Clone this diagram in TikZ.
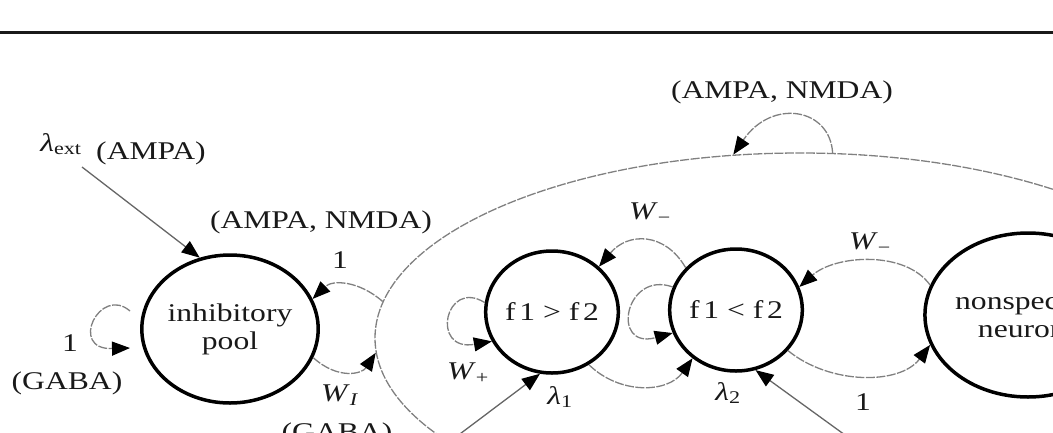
\documentclass[tikz,border=0pt]{standalone}
\usepackage{fontspec}
\setmainfont{Liberation Serif}
\usepackage{graphicx}
\usetikzlibrary{shapes.geometric,arrows.meta}
\newcommand{\sx}[1]{\scalebox{1.24}[1]{#1}}
\newcommand{\lblfont}{\fontsize{25.5}{28}\selectfont}
\begin{document}
\begin{tikzpicture}[x=1pt,y=-1pt,
  lbl/.style={font=\lblfont, inner sep=0pt, text=black!90},
  neuron/.style={ellipse, draw=black, line width=3.5pt, inner sep=0pt, font=\lblfont, text=black!90, align=center},
  conn/.style={draw=black!50, line width=1.3pt, dash pattern=on 9pt off 1.5pt},
  inp/.style={draw=black!60, line width=1.3pt},
  tip/.style={-{Triangle[length=18pt,width=14pt,color=black]}},
]
\useasboundingbox (0,0) rectangle (1053,432);
\clip (0,0) rectangle (1053,432);
% top rule
\draw[line width=3pt, black!90] (0,32.5) -- (1053,32.5);

% nodes
\node[ellipse, conn, minimum width=850pt, minimum height=370pt, inner sep=0pt] (pop) at (800,338) {};
\node[neuron, minimum width=164pt, minimum height=148pt] (inh) at (230,329) {\sx{inhibitory}\\\sx{pool}};
\node[neuron, minimum width=116pt, minimum height=122pt] (c1) at (552,312) {\sx{f\kern3pt 1 > f\kern3pt 2}};
\node[neuron, minimum width=118pt, minimum height=122pt] (c2) at (736,310) {\sx{f\kern3pt 1 < f\kern3pt 2}};
\node[neuron, minimum width=176pt, minimum height=164pt] (ns) at (1028,315) {\sx{nonspecific}\\\sx{neurons}};

% free ends
\coordinate (ext) at (82,167);
\coordinate (ls) at (130,311);
\coordinate (le) at (130,348);
\coordinate (in1) at (420,464);
\coordinate (in2) at (885,464);

% connectors
\draw[inp,tip] (ext) -- (inh.113);
\draw[conn,tip] (ls) .. controls (100,285) and (68,350) .. (le);
\draw[conn,tip] (pop.175) .. controls (358,280) and (332,280) .. (inh.20);
\draw[conn,tip] (inh.-19) .. controls (338,380) and (362,374) .. (pop.182);
\draw[conn,tip] (pop.80) .. controls (830,108) and (772,98) .. (pop.110);
\draw[conn,tip] (c1.172) .. controls (445,278) and (430,352) .. (c1.206);
\draw[conn,tip] (c2.140) .. controls (665,232) and (628,232) .. (c1.44);
\draw[conn,tip] (c2.160) .. controls (625,270) and (610,350) .. (c2.200);
\draw[conn,tip] (c1.-55) .. controls (620,395) and (668,393) .. (c2.228);
\draw[conn,tip] (ns.163) .. controls (905,250) and (835,255) .. (c2.20);
\draw[conn,tip] (c2.-38) .. controls (830,385) and (900,385) .. (ns.197);
\draw[inp,tip] (in1) -- (c1.259);
\draw[inp,tip] (in2) -- (c2.288);

% labels
\node[lbl] (lext) at (61,144) {\sx{\textit{λ}\textsubscript{ext}}};
\node[lbl] (lampa) at (151,153) {\sx{(AMPA)}};
\node[lbl] (lan1) at (321,222) {\sx{(AMPA, NMDA)}};
\node[lbl] (lone1) at (340,260) {\sx{1}};
\node[lbl] (lone2) at (70,343) {\sx{1}};
\node[lbl] (lgaba1) at (67,383) {\sx{(GABA)}};
\node[lbl] (lwi) at (340,395) {\sx{\textit{W}\textsubscript{\textit{I}}}};
\node[lbl] (lgaba2) at (337,434) {\sx{(GABA)}};
\node[lbl] (lan2) at (782,92) {\sx{(AMPA, NMDA)}};
\node[lbl] (lwp) at (468,373) {\sx{\textit{W}\textsubscript{+}}};
\node[lbl] (ll1) at (560,397) {\sx{\textit{λ}\textsubscript{1}}};
\node[lbl] (lwm1) at (650,213) {\sx{\textit{W}\textsubscript{−}}};
\node[lbl] (ll2) at (728,393) {\sx{\textit{λ}\textsubscript{2}}};
\node[lbl] (lwm2) at (870,243) {\sx{\textit{W}\textsubscript{−}}};
\node[lbl] (lone3) at (863,402) {\sx{1}};
\end{tikzpicture}
\end{document}
